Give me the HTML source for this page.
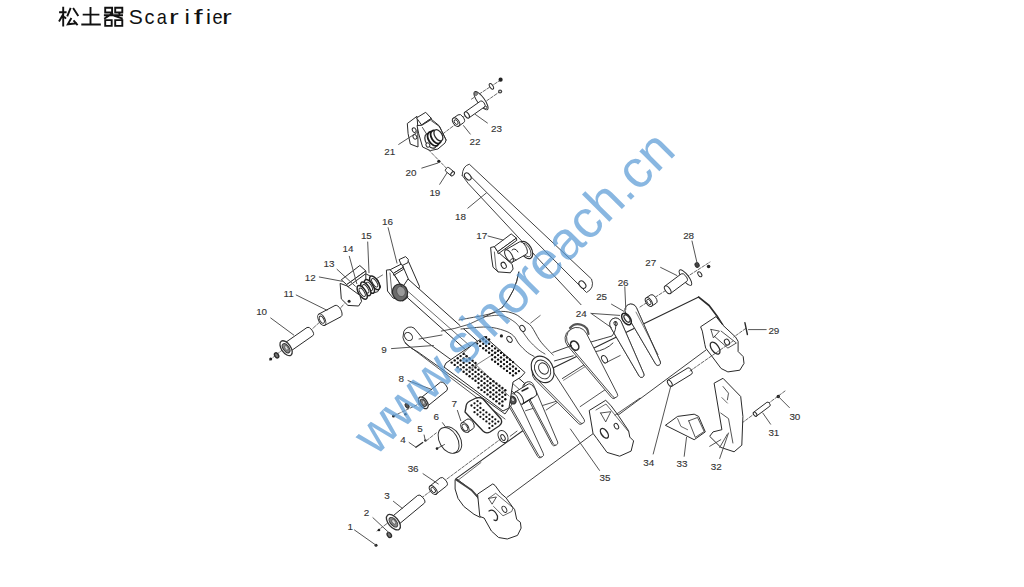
<!DOCTYPE html>
<html><head><meta charset="utf-8">
<style>
html,body{margin:0;padding:0;background:#fff;width:1024px;height:587px;overflow:hidden}
svg{position:absolute;left:0;top:0;display:block}
.l text{font-family:"Liberation Sans",sans-serif;font-size:9.9px;letter-spacing:-0.1px;fill:#333;stroke:#333;stroke-width:0.12px}
</style></head><body>
<svg width="1024" height="587" viewBox="0 0 1024 587">
<!-- title -->
<g id="title" stroke="#111" stroke-width="1.9" fill="none" stroke-linecap="butt">
<path d="M59.1 12.2H66.6M63.2 6.7V26.6M63.2 14.3L59 21.4M64 16.6L66 18.7"/>
<path d="M70.7 7.8L67.2 16.3M73.1 8.1L78.3 16M71.4 18L67.8 24.3L76.9 23.3M73.5 20.4L77.6 25.2"/>
<path d="M82.7 14.6H99.4M90.5 7.1V24.5M81.3 24.5H100.8"/>
<path d="M105.2 7.8h6.9v4.7h-6.9zM115.2 7.8h7.1v4.7h-7.1zM103.9 15.3H123M113.1 12.9L104.2 18.7M113.8 15.6L122.7 18.7M118.5 12.6l1.5 1.5M105.2 20.1h6.5v5.8h-6.5zM115.2 20.1h7.1v5.8h-7.1z"/>
</g>
<g font-family="Liberation Sans" font-size="19.5" fill="#111"><text transform="translate(128.7 24.4) scale(1.08 1)">S</text><text transform="translate(144.6 24.4) scale(1.02 1)">c</text><text transform="translate(156.7 24.4) scale(0.93 1)">a</text><text transform="translate(169.1 24.4) scale(1.5 1)">r</text><text transform="translate(184.5 24.4) scale(1.25 1)">i</text><text transform="translate(193.8 24.4) scale(1.65 1)">f</text><text transform="translate(205.9 24.4) scale(1.15 1)">i</text><text transform="translate(212.4 24.4) scale(0.93 1)">e</text><text transform="translate(222.0 24.4) scale(1.5 1)">r</text></g>
<g id="diagram">
<polyline points="269.8,360.0 286.0,347.0" fill="none" stroke="#2a2a2a" stroke-width="0.7" stroke-linejoin="round" stroke-linecap="round" stroke-dasharray="3 1.6"/>
<polyline points="310.0,331.0 322.0,320.0" fill="none" stroke="#2a2a2a" stroke-width="0.7" stroke-linejoin="round" stroke-linecap="round" stroke-dasharray="3 1.6"/>
<polyline points="338.0,311.0 344.0,304.0" fill="none" stroke="#2a2a2a" stroke-width="0.7" stroke-linejoin="round" stroke-linecap="round" stroke-dasharray="3 1.6"/>
<polyline points="376.5,278.6 382.5,275.0" fill="none" stroke="#2a2a2a" stroke-width="0.7" stroke-linejoin="round" stroke-linecap="round"/>
<polyline points="443.0,133.7 455.3,124.5" fill="none" stroke="#2a2a2a" stroke-width="0.7" stroke-linejoin="round" stroke-linecap="round" stroke-dasharray="3 1.6"/>
<polyline points="461.0,118.5 466.0,115.0" fill="none" stroke="#2a2a2a" stroke-width="0.7" stroke-linejoin="round" stroke-linecap="round" stroke-dasharray="3 1.6"/>
<polyline points="471.5,99.1 501.1,79.7" fill="none" stroke="#2a2a2a" stroke-width="0.7" stroke-linejoin="round" stroke-linecap="round" stroke-dasharray="3 1.6"/>
<polyline points="486.8,100.7 500.1,91.5" fill="none" stroke="#2a2a2a" stroke-width="0.7" stroke-linejoin="round" stroke-linecap="round" stroke-dasharray="3 1.6"/>
<polyline points="428.7,150.0 448.0,169.8" fill="none" stroke="#2a2a2a" stroke-width="0.7" stroke-linejoin="round" stroke-linecap="round" stroke-dasharray="3 1.6"/>
<ellipse cx="491.4" cy="86.4" rx="1.60" ry="3.20" transform="rotate(-33.0 491.4 86.4)" fill="#fff" stroke="#2a2a2a" stroke-width="0.95"/>
<circle cx="500.6" cy="79.7" r="2.1" fill="#222"/>
<circle cx="500.1" cy="91.5" r="2.1" fill="#444"/>
<circle cx="500.1" cy="91.5" r="0.8" fill="#fff"/>
<ellipse cx="481.0" cy="100.7" rx="3.60" ry="11.00" transform="rotate(-36.0 481.0 100.7)" fill="#fff" stroke="#2a2a2a" stroke-width="0.95"/>
<ellipse cx="476.0" cy="94.0" rx="1.30" ry="1.30" transform="rotate(0.0 476.0 94.0)" fill="#fff" stroke="#2a2a2a" stroke-width="0.95"/>
<ellipse cx="485.5" cy="107.5" rx="1.30" ry="1.30" transform="rotate(0.0 485.5 107.5)" fill="#fff" stroke="#2a2a2a" stroke-width="0.95"/>
<path d="M468.9,117.9 L484.5,106.9 A3.50,1.93 54.8 0 0 480.5,101.1 L464.9,112.1 Z" fill="#fff" stroke="#2a2a2a" stroke-width="1.0" stroke-linejoin="round" stroke-linecap="round" />
<ellipse cx="466.9" cy="115.0" rx="1.93" ry="3.50" transform="rotate(-35.2 466.9 115.0)" fill="#fff" stroke="#2a2a2a" stroke-width="1.0"/>
<path d="M458.9,126.0 L463.6,122.7 A4.80,2.88 54.9 0 0 458.0,114.9 L453.3,118.2 Z" fill="#fff" stroke="#2a2a2a" stroke-width="1.0" stroke-linejoin="round" stroke-linecap="round" />
<ellipse cx="456.1" cy="122.1" rx="2.88" ry="4.80" transform="rotate(-35.1 456.1 122.1)" fill="#fff" stroke="#2a2a2a" stroke-width="1.0"/>
<ellipse cx="456.1" cy="122.1" rx="1.58" ry="2.64" transform="rotate(-35.1 456.1 122.1)" fill="#fff" stroke="#2a2a2a" stroke-width="0.9"/>
<polygon points="407.3,123.5 417.0,116.3 417.7,125.5 418.0,147.0 410.3,144.1 408.1,133.7" fill="#fff" stroke="#2a2a2a" stroke-width="1.0" stroke-linejoin="round"/>
<ellipse cx="414.2" cy="130.1" rx="1.80" ry="2.40" transform="rotate(-30.0 414.2 130.1)" fill="#fff" stroke="#2a2a2a" stroke-width="0.95"/>
<ellipse cx="414.9" cy="136.8" rx="1.80" ry="2.40" transform="rotate(-30.0 414.9 136.8)" fill="#fff" stroke="#2a2a2a" stroke-width="0.95"/>
<polygon points="416.5,117.9 425.7,112.3 431.3,118.4 421.6,125.0" fill="#fff" stroke="#2a2a2a" stroke-width="1.0" stroke-linejoin="round"/>
<polygon points="421.6,125.0 431.3,118.4 431.5,120.9 422.4,127.4" fill="#fff" stroke="#2a2a2a" stroke-width="1.0" stroke-linejoin="round"/>
<polygon points="417.0,125.5 421.8,125.3 431.5,119.4 438.9,125.5 446.1,139.9 445.1,142.9 437.9,149.0 430.3,150.6 422.6,147.0 418.7,133.7" fill="#fff" stroke="#2a2a2a" stroke-width="1.0" stroke-linejoin="round"/>
<polyline points="422.4,127.4 430.3,139.9 433.0,148.0" fill="none" stroke="#2a2a2a" stroke-width="0.8" stroke-linejoin="round" stroke-linecap="round"/>
<polyline points="431.5,120.9 439.8,126.8 446.1,140.1" fill="none" stroke="#2a2a2a" stroke-width="0.8" stroke-linejoin="round" stroke-linecap="round"/>
<ellipse cx="430.8" cy="140.9" rx="5.00" ry="8.00" transform="rotate(-32.0 430.8 140.9)" fill="#fff" stroke="#2a2a2a" stroke-width="1.2"/>
<ellipse cx="433.3" cy="138.8" rx="4.80" ry="7.80" transform="rotate(-32.0 433.3 138.8)" fill="#fff" stroke="#1a1a1a" stroke-width="1.8"/>
<ellipse cx="435.9" cy="137.0" rx="4.40" ry="7.20" transform="rotate(-32.0 435.9 137.0)" fill="#fff" stroke="#1a1a1a" stroke-width="1.8"/>
<ellipse cx="438.4" cy="135.3" rx="3.60" ry="6.20" transform="rotate(-32.0 438.4 135.3)" fill="#fff" stroke="#2a2a2a" stroke-width="1.3"/>
<ellipse cx="427.9" cy="145.0" rx="1.80" ry="2.20" transform="rotate(-30.0 427.9 145.0)" fill="#fff" stroke="#2a2a2a" stroke-width="0.95"/>
<circle cx="438.8" cy="161.3" r="1.6" fill="#222"/>
<path d="M454.1,171.9 L448.8,167.6 A2.40,1.44 -50.9 0 0 445.8,171.4 L451.1,175.7 Z" fill="#fff" stroke="#2a2a2a" stroke-width="1.0" stroke-linejoin="round" stroke-linecap="round" />
<ellipse cx="452.6" cy="173.8" rx="1.44" ry="2.40" transform="rotate(-140.9 452.6 173.8)" fill="#fff" stroke="#2a2a2a" stroke-width="1.0"/>
<path d="M462.2,175.4 Q462.5,166 469.3,164.2 L591.5,279 Q595,287 586.5,291.8 L581,304.7 L468.3,183.6 Z" fill="#fff" stroke="none" stroke-width="0" stroke-linejoin="round" stroke-linecap="round" />
<polyline points="462.2,175.4 468.3,183.6 581.0,304.7" fill="none" stroke="#2a2a2a" stroke-width="0.9" stroke-linejoin="round" stroke-linecap="round"/>
<path d="M462.2,175.4 Q462.5,166 469.3,164.2 L591.5,279 Q595,288 586.5,292.5 L470.3,176" fill="none" stroke="#2a2a2a" stroke-width="0.9" stroke-linejoin="round" stroke-linecap="round" />
<ellipse cx="467.8" cy="176.5" rx="2.60" ry="4.10" transform="rotate(-40.0 467.8 176.5)" fill="#fff" stroke="#2a2a2a" stroke-width="1.1"/>
<ellipse cx="582.4" cy="284.6" rx="2.80" ry="4.20" transform="rotate(-40.0 582.4 284.6)" fill="#fff" stroke="#2a2a2a" stroke-width="1.1"/>
<circle cx="270.7" cy="358.9" r="1.5" fill="#222"/>
<ellipse cx="276.6" cy="355.4" rx="1.80" ry="2.80" transform="rotate(-33.0 276.6 355.4)" fill="#777" stroke="#2a2a2a" stroke-width="1.3"/>
<path d="M289.0,352.3 L312.8,335.7 A5.00,2.50 55.1 0 0 307.0,327.5 L283.2,344.1 Z" fill="#fff" stroke="#2a2a2a" stroke-width="1.0" stroke-linejoin="round" stroke-linecap="round" />
<ellipse cx="286.1" cy="348.2" rx="2.50" ry="5.00" transform="rotate(-34.9 286.1 348.2)" fill="#fff" stroke="#2a2a2a" stroke-width="1.0"/>
<ellipse cx="286.1" cy="348.2" rx="4.60" ry="8.50" transform="rotate(-35.0 286.1 348.2)" fill="#fff" stroke="#333" stroke-width="1.3"/>
<ellipse cx="286.1" cy="348.2" rx="2.85" ry="5.27" transform="rotate(-35.0 286.1 348.2)" fill="#888" stroke="#333" stroke-width="1.0"/>
<ellipse cx="286.4" cy="347.9" rx="1.38" ry="2.55" transform="rotate(-35.0 286.4 347.9)" fill="#ddd" stroke="#444" stroke-width="0.6"/>
<path d="M324.8,325.3 L341.0,316.7 A6.30,3.15 62.0 0 0 335.0,305.5 L318.8,314.1 Z" fill="#fff" stroke="#2a2a2a" stroke-width="1.0" stroke-linejoin="round" stroke-linecap="round" />
<ellipse cx="321.8" cy="319.7" rx="3.15" ry="6.30" transform="rotate(-28.0 321.8 319.7)" fill="#fff" stroke="#2a2a2a" stroke-width="1.0"/>
<ellipse cx="321.8" cy="319.7" rx="1.95" ry="3.91" transform="rotate(-28.0 321.8 319.7)" fill="#fff" stroke="#2a2a2a" stroke-width="0.9"/>
<polygon points="365.8,273.8 377.7,279.8 380.7,287.0 377.7,291.7 369.4,294.1 365.8,281.0" fill="#fff" stroke="#2a2a2a" stroke-width="1.0" stroke-linejoin="round"/>
<ellipse cx="374.7" cy="282.8" rx="3.60" ry="7.80" transform="rotate(-32.0 374.7 282.8)" fill="#fff" stroke="#222" stroke-width="1.5"/>
<ellipse cx="374.7" cy="282.8" rx="2.00" ry="4.80" transform="rotate(-32.0 374.7 282.8)" fill="#fff" stroke="#2a2a2a" stroke-width="0.9"/>
<ellipse cx="369.4" cy="286.4" rx="3.60" ry="7.80" transform="rotate(-32.0 369.4 286.4)" fill="#fff" stroke="#222" stroke-width="1.5"/>
<ellipse cx="369.4" cy="286.4" rx="2.00" ry="4.80" transform="rotate(-32.0 369.4 286.4)" fill="#fff" stroke="#2a2a2a" stroke-width="0.9"/>
<ellipse cx="365.8" cy="288.8" rx="3.60" ry="7.80" transform="rotate(-32.0 365.8 288.8)" fill="#fff" stroke="#222" stroke-width="1.5"/>
<ellipse cx="365.8" cy="288.8" rx="2.00" ry="4.80" transform="rotate(-32.0 365.8 288.8)" fill="#fff" stroke="#2a2a2a" stroke-width="0.9"/>
<ellipse cx="362.2" cy="292.3" rx="3.60" ry="7.80" transform="rotate(-32.0 362.2 292.3)" fill="#fff" stroke="#222" stroke-width="1.5"/>
<ellipse cx="362.2" cy="292.3" rx="2.00" ry="4.80" transform="rotate(-32.0 362.2 292.3)" fill="#fff" stroke="#2a2a2a" stroke-width="0.9"/>
<polygon points="341.3,279.8 359.8,265.5 365.8,270.9 346.7,284.6" fill="#fff" stroke="#2a2a2a" stroke-width="1.0" stroke-linejoin="round"/>
<polygon points="346.7,284.6 365.8,270.9 366.0,273.5 347.3,287.2" fill="#fff" stroke="#2a2a2a" stroke-width="1.0" stroke-linejoin="round"/>
<polygon points="340.1,283.4 346.7,285.8 359.8,295.3 361.6,301.3 358.6,306.0 347.9,305.4 341.3,298.9" fill="#fff" stroke="#2a2a2a" stroke-width="1.0" stroke-linejoin="round"/>
<circle cx="349.1" cy="301.3" r="1.5" fill="#222"/>
<polygon points="401.5,263.0 408.5,261.5 419.5,286.5 418.6,289.3 412.0,287.5" fill="#fff" stroke="#2a2a2a" stroke-width="1.0" stroke-linejoin="round"/>
<polygon points="399.1,259.6 405.6,256.6 408.3,259.4 408.0,262.6 401.6,265.8" fill="#fff" stroke="#2a2a2a" stroke-width="1.0" stroke-linejoin="round"/>
<polygon points="408.0,279.0 532.0,390.0 524.0,402.0 400.0,291.0" fill="#fff" stroke="#2a2a2a" stroke-width="1.0" stroke-linejoin="round"/>
<polyline points="403.0,287.0 528.0,397.0" fill="none" stroke="#2a2a2a" stroke-width="0.7" stroke-linejoin="round" stroke-linecap="round"/>
<polygon points="386.4,270.1 390.2,269.7 393.4,273.4 404.5,291.0 408.0,297.0 403.0,301.0 393.0,298.0 387.5,291.0" fill="#fff" stroke="#2a2a2a" stroke-width="1.0" stroke-linejoin="round"/>
<polyline points="390.0,273.0 392.0,294.0" fill="none" stroke="#2a2a2a" stroke-width="0.7" stroke-linejoin="round" stroke-linecap="round"/>
<ellipse cx="400.0" cy="292.5" rx="7.50" ry="8.50" transform="rotate(-20.0 400.0 292.5)" fill="#6a6a6a" stroke="#2a2a2a" stroke-width="1.2"/>
<ellipse cx="401.0" cy="291.5" rx="4.20" ry="5.20" transform="rotate(-20.0 401.0 291.5)" fill="#9a9a9a" stroke="#444" stroke-width="0.6"/>
<polyline points="393.4,273.4 402.0,287.0" fill="none" stroke="#2a2a2a" stroke-width="0.8" stroke-linejoin="round" stroke-linecap="round"/>
<polygon points="390.2,269.7 401.4,264.0 403.3,267.3 393.4,273.4" fill="#fff" stroke="#2a2a2a" stroke-width="1.0" stroke-linejoin="round"/>
<polygon points="393.4,273.4 403.3,267.3 403.6,269.2 393.8,275.3" fill="#fff" stroke="#2a2a2a" stroke-width="1.0" stroke-linejoin="round"/>
<ellipse cx="526.0" cy="250.0" rx="5.50" ry="9.50" transform="rotate(-30.0 526.0 250.0)" fill="#fff" stroke="#2a2a2a" stroke-width="1.2"/>
<ellipse cx="526.0" cy="250.0" rx="3.80" ry="7.50" transform="rotate(-30.0 526.0 250.0)" fill="#fff" stroke="#2a2a2a" stroke-width="0.8"/>
<path d="M512.5,262.1 L526.5,254.1 A7.00,3.15 60.3 0 0 519.5,241.9 L505.5,249.9 Z" fill="#fff" stroke="#2a2a2a" stroke-width="1.0" stroke-linejoin="round" stroke-linecap="round" />
<ellipse cx="509.0" cy="256.0" rx="3.15" ry="7.00" transform="rotate(-29.7 509.0 256.0)" fill="#fff" stroke="#2a2a2a" stroke-width="1.0"/>
<path d="M512,250 Q515,247 518,252 M509,262 Q512,256 516,260" fill="none" stroke="#2a2a2a" stroke-width="1.0" stroke-linejoin="round" stroke-linecap="round" />
<polygon points="490.6,247.5 494.4,246.6 497.7,251.7 512.2,264.4 513.1,269.0 510.3,272.8 498.1,271.9 493.0,267.2 491.6,258.0" fill="#fff" stroke="#2a2a2a" stroke-width="1.0" stroke-linejoin="round"/>
<polyline points="494.4,252.0 496.0,268.0 498.1,271.9" fill="none" stroke="#2a2a2a" stroke-width="0.7" stroke-linejoin="round" stroke-linecap="round"/>
<ellipse cx="503.7" cy="265.3" rx="2.30" ry="3.30" transform="rotate(-30.0 503.7 265.3)" fill="#fff" stroke="#2a2a2a" stroke-width="1.0"/>
<polygon points="494.4,246.6 511.2,233.9 516.4,238.1 497.7,251.7" fill="#fff" stroke="#2a2a2a" stroke-width="1.0" stroke-linejoin="round"/>
<polygon points="497.7,251.7 516.4,238.1 516.8,240.3 498.2,253.8" fill="#fff" stroke="#2a2a2a" stroke-width="1.0" stroke-linejoin="round"/>
<path d="M518.8,272 Q516,291 502.1,307.7" fill="none" stroke="#2a2a2a" stroke-width="0.8" stroke-linejoin="round" stroke-linecap="round" />
<polygon points="456.0,478.6 525.0,429.0 552.0,368.0 698.7,297.1 722.8,325.1 706.0,350.0 507.0,497.4 480.0,500.0" fill="#fff" stroke="#2a2a2a" stroke-width="0" stroke-linejoin="round"/>
<polyline points="456.0,478.6 528.0,427.0" fill="none" stroke="#2a2a2a" stroke-width="1.1" stroke-linejoin="round" stroke-linecap="round"/>
<polyline points="552.4,368.3 698.7,297.1" fill="none" stroke="#2a2a2a" stroke-width="1.1" stroke-linejoin="round" stroke-linecap="round"/>
<polyline points="698.7,297.1 709.1,305.5 716.8,315.7 722.8,325.1" fill="none" stroke="#2a2a2a" stroke-width="1.7" stroke-linejoin="round" stroke-linecap="round"/>
<polyline points="507.0,497.4 706.0,350.0" fill="none" stroke="#2a2a2a" stroke-width="0.9" stroke-linejoin="round" stroke-linecap="round"/>
<polygon points="455.1,479.6 456.6,478.8 465.3,485.4 474.0,492.6 479.8,500.6 482.7,509.3 483.4,515.8 479.8,517.2 474.0,514.3 463.8,506.4 458.0,498.4 455.1,489.0" fill="#fff" stroke="#2a2a2a" stroke-width="1.0" stroke-linejoin="round"/>
<polyline points="455.9,479.6 471.1,489.7 479.8,499.1 483.4,515.8" fill="none" stroke="#444" stroke-width="1.8" stroke-linejoin="round" stroke-linecap="round"/>
<polyline points="457.5,480.6 481.0,462.5" fill="none" stroke="#2a2a2a" stroke-width="0.7" stroke-linejoin="round" stroke-linecap="round"/>
<polygon points="477.6,494.1 492.8,483.9 495.0,485.4 500.8,493.3 505.9,497.7 513.1,507.8 514.6,509.3 516.7,519.4 520.4,522.3 521.1,528.1 517.5,535.4 507.3,539.0 498.6,537.5 491.4,531.0 484.1,518.0 479.8,516.5" fill="#fff" stroke="#2a2a2a" stroke-width="1.0" stroke-linejoin="round"/>
<polyline points="488.5,498.4 495.7,493.3 513.1,507.8 511.7,511.5 503.0,515.8 493.5,506.4" fill="none" stroke="#2a2a2a" stroke-width="0.7" stroke-linejoin="round" stroke-linecap="round"/>
<polyline points="488.5,498.4 496.4,497.0 492.1,504.2 488.5,498.4" fill="none" stroke="#2a2a2a" stroke-width="0.8" stroke-linejoin="round" stroke-linecap="round"/>
<ellipse cx="504.4" cy="509.3" rx="2.00" ry="3.40" transform="rotate(-30.0 504.4 509.3)" fill="#fff" stroke="#2a2a2a" stroke-width="0.9"/>
<path d="M489,511 Q494,508 497.5,516 Q498,522 494,520" fill="none" stroke="#2a2a2a" stroke-width="1.3" stroke-linejoin="round" stroke-linecap="round" />
<ellipse cx="503.0" cy="436.5" rx="4.50" ry="6.50" transform="rotate(-30.0 503.0 436.5)" fill="#fff" stroke="#2a2a2a" stroke-width="0.95"/>
<ellipse cx="503.0" cy="437.5" rx="1.80" ry="3.20" transform="rotate(-30.0 503.0 437.5)" fill="#fff" stroke="#2a2a2a" stroke-width="0.95"/>
<polygon points="589.2,410.5 605.7,400.3 610.8,405.4 618.4,415.6 628.6,430.8 629.8,437.1 633.6,440.9 631.1,451.1 619.7,456.2 607.0,452.4 596.8,438.4 593.0,433.3" fill="#fff" stroke="#2a2a2a" stroke-width="1.0" stroke-linejoin="round"/>
<polyline points="600.6,413.0 610.8,411.7 605.7,421.9 600.6,413.0" fill="none" stroke="#2a2a2a" stroke-width="0.8" stroke-linejoin="round" stroke-linecap="round"/>
<ellipse cx="616.4" cy="426.2" rx="2.00" ry="3.00" transform="rotate(-30.0 616.4 426.2)" fill="#fff" stroke="#2a2a2a" stroke-width="0.95"/>
<ellipse cx="604.4" cy="433.3" rx="3.00" ry="5.50" transform="rotate(-35.0 604.4 433.3)" fill="#fff" stroke="#2a2a2a" stroke-width="1.4"/>
<polyline points="596.0,410.0 606.0,404.0 628.0,431.0" fill="none" stroke="#2a2a2a" stroke-width="0.7" stroke-linejoin="round" stroke-linecap="round"/>
<polygon points="700.6,326.8 716.0,316.6 722.8,325.1 735.5,337.0 738.1,341.3 738.1,351.5 743.2,356.6 744.0,363.4 739.8,370.2 727.9,371.9 721.1,368.5 710.9,354.9 705.7,348.1 704.9,344.7 702.3,331.1" fill="#fff" stroke="#2a2a2a" stroke-width="1.0" stroke-linejoin="round"/>
<polyline points="710.9,329.4 719.4,331.1 713.4,337.9 710.9,329.4" fill="none" stroke="#2a2a2a" stroke-width="0.8" stroke-linejoin="round" stroke-linecap="round"/>
<polyline points="721.1,331.1 736.4,343.0 727.9,348.1 714.3,336.2" fill="none" stroke="#2a2a2a" stroke-width="0.8" stroke-linejoin="round" stroke-linecap="round"/>
<ellipse cx="727.0" cy="342.1" rx="2.40" ry="3.20" transform="rotate(-30.0 727.0 342.1)" fill="#fff" stroke="#2a2a2a" stroke-width="0.95"/>
<ellipse cx="715.1" cy="348.1" rx="3.60" ry="6.80" transform="rotate(-35.0 715.1 348.1)" fill="#fff" stroke="#2a2a2a" stroke-width="1.3"/>
<polyline points="745.7,328.5 733.8,337.0" fill="none" stroke="#2a2a2a" stroke-width="0.7" stroke-linejoin="round" stroke-linecap="round" stroke-dasharray="3 1.6"/>
<polyline points="744.9,322.6 747.4,334.5" fill="none" stroke="#2a2a2a" stroke-width="1.4" stroke-linejoin="round" stroke-linecap="round"/>
<polyline points="525.6,410.7 558.8,400.5 581.0,423.5" fill="none" stroke="#2a2a2a" stroke-width="0.8" stroke-linejoin="round" stroke-linecap="round"/>
<polyline points="510.2,436.2 517.0,431.1" fill="none" stroke="#2a2a2a" stroke-width="0.8" stroke-linejoin="round" stroke-linecap="round"/>
<polyline points="562.4,378.5 587.9,362.4" fill="none" stroke="#2a2a2a" stroke-width="0.9" stroke-linejoin="round" stroke-linecap="round"/>
<polyline points="563.5,380.3 589.0,364.2" fill="none" stroke="#2a2a2a" stroke-width="0.6" stroke-linejoin="round" stroke-linecap="round"/>
<polyline points="546.2,410.0 558.9,401.2" fill="none" stroke="#2a2a2a" stroke-width="0.8" stroke-linejoin="round" stroke-linecap="round"/>
<polyline points="580.2,406.6 606.6,388.7" fill="none" stroke="#2a2a2a" stroke-width="0.8" stroke-linejoin="round" stroke-linecap="round"/>
<polyline points="604.9,363.2 620.2,355.5" fill="none" stroke="#2a2a2a" stroke-width="0.8" stroke-linejoin="round" stroke-linecap="round"/>
<polyline points="615.1,415.1 640.0,398.1" fill="none" stroke="#2a2a2a" stroke-width="0.8" stroke-linejoin="round" stroke-linecap="round"/>
<path d="M671.7,386.3 L691.7,374.1 A3.60,1.80 58.6 0 0 687.9,367.9 L667.9,380.1 Z" fill="#fff" stroke="#2a2a2a" stroke-width="1.0" stroke-linejoin="round" stroke-linecap="round" />
<ellipse cx="669.8" cy="383.2" rx="1.80" ry="3.60" transform="rotate(-31.4 669.8 383.2)" fill="#fff" stroke="#2a2a2a" stroke-width="1.0"/>
<polyline points="690.0,371.0 733.0,341.0" fill="none" stroke="#2a2a2a" stroke-width="0.7" stroke-linejoin="round" stroke-linecap="round" stroke-dasharray="3 1.6"/>
<path d="M625.7,313.0 L655.8,364.3 A2.6,2.6 0 0 0 660.4,362.0 L636.4,307.6 A6,6 0 1 0 625.7,313.0 Z" fill="#fff" stroke="#333" stroke-width="0.9" stroke-linejoin="round" stroke-linecap="round" />
<path d="M625.7,313.0 L655.8,364.3 A2.6,2.6 0 0 0 660.4,362.0 L636.4,307.6 A6,6 0 1 0 625.7,313.0 Z" fill="#fff" stroke="#333" stroke-width="0.9" stroke-linejoin="round" stroke-linecap="round" />
<path d="M610.4,327.0 L639.3,376.3 A2.6,2.6 0 0 0 643.9,374.0 L621.1,321.6 A6,6 0 1 0 610.4,327.0 Z" fill="#fff" stroke="#333" stroke-width="0.9" stroke-linejoin="round" stroke-linecap="round" />
<path d="M610.4,327.0 L639.3,376.3 A2.6,2.6 0 0 0 643.9,374.0 L621.1,321.6 A6,6 0 1 0 610.4,327.0 Z" fill="#fff" stroke="#333" stroke-width="0.9" stroke-linejoin="round" stroke-linecap="round" />
<polyline points="636.0,312.1 658.1,354.7" fill="none" stroke="#2a2a2a" stroke-width="0.6" stroke-linejoin="round" stroke-linecap="round"/>
<ellipse cx="626.5" cy="319.0" rx="3.80" ry="6.50" transform="rotate(-35.0 626.5 319.0)" fill="#fff" stroke="#222" stroke-width="1.5"/>
<ellipse cx="627.0" cy="318.5" rx="2.20" ry="4.20" transform="rotate(-35.0 627.0 318.5)" fill="#fff" stroke="#333" stroke-width="1.3"/>
<ellipse cx="615.6" cy="323.5" rx="1.60" ry="2.00" transform="rotate(-30.0 615.6 323.5)" fill="#fff" stroke="#2a2a2a" stroke-width="0.95"/>
<path d="M591,342 Q605,338 612,336 Q617,330 615.6,322 M594,352 Q606,350 613,343" fill="none" stroke="#2a2a2a" stroke-width="0.9" stroke-linejoin="round" stroke-linecap="round" />
<ellipse cx="604.5" cy="359.2" rx="2.50" ry="4.00" transform="rotate(-30.0 604.5 359.2)" fill="#fff" stroke="#2a2a2a" stroke-width="0.95"/>
<path d="M567.5,345.6 L611.5,397.5 A2.6,2.6 0 0 0 615.8,394.6 L584.8,334.0 A10.5,10.5 0 1 0 567.5,345.6 Z" fill="#fff" stroke="#333" stroke-width="0.9" stroke-linejoin="round" stroke-linecap="round" />
<path d="M569.0,344.8 L613.0,396.7 A2.6,2.6 0 0 0 617.3,393.8 L586.3,333.2 A10.5,10.5 0 1 0 569.0,344.8 Z" fill="#fff" stroke="#333" stroke-width="0.9" stroke-linejoin="round" stroke-linecap="round" />
<path d="M570,328 A10.5,10.5 0 0 1 588.5,334" fill="none" stroke="#555" stroke-width="2.2" stroke-linejoin="round" stroke-linecap="round" />
<ellipse cx="574.7" cy="345.6" rx="3.60" ry="5.00" transform="rotate(-35.0 574.7 345.6)" fill="#fff" stroke="#2a2a2a" stroke-width="1.6"/>
<polyline points="552.8,352.4 571.5,345.6" fill="none" stroke="#2a2a2a" stroke-width="0.9" stroke-linejoin="round" stroke-linecap="round"/>
<polyline points="554.5,360.9 573.2,355.8" fill="none" stroke="#2a2a2a" stroke-width="0.9" stroke-linejoin="round" stroke-linecap="round"/>
<path d="M534.6,379.2 L578.6,423.7 A2.6,2.6 0 0 0 582.6,420.5 L548.6,368.0 A9,9 0 1 0 534.6,379.2 Z" fill="#fff" stroke="#333" stroke-width="0.9" stroke-linejoin="round" stroke-linecap="round" />
<path d="M536.2,378.3 L580.2,422.8 A2.6,2.6 0 0 0 584.2,419.6 L550.2,367.1 A9,9 0 1 0 536.2,378.3 Z" fill="#fff" stroke="#333" stroke-width="0.9" stroke-linejoin="round" stroke-linecap="round" />
<polygon points="459.0,320.0 483.0,315.5 501.4,311.4 515.0,314.1 524.5,320.9 531.4,326.4 539.5,340.0 547.7,349.5 553.2,355.0 534.1,356.4 527.3,352.3 519.1,344.1 513.6,335.9 504.1,330.5 486.4,327.0 461.0,329.0" fill="#fff" stroke="#2a2a2a" stroke-width="0" stroke-linejoin="round"/>
<path d="M459.0,320.0 C463.0,319.2 475.9,316.9 483.0,315.5 C490.1,314.1 496.1,311.6 501.4,311.4 C506.7,311.2 511.1,312.5 515.0,314.1 C518.9,315.7 521.8,318.8 524.5,320.9 C527.2,322.9 528.9,323.2 531.4,326.4 C533.9,329.6 536.8,336.1 539.5,340.0 C542.2,343.9 545.4,347.0 547.7,349.5 C550.0,352.0 552.3,354.1 553.2,355.0" fill="none" stroke="#333" stroke-width="0.9" stroke-linejoin="round" stroke-linecap="round" />
<path d="M483.6,316.8 C486.6,316.6 496.2,314.6 501.4,315.5 C506.6,316.4 511.6,319.8 515.0,322.3 C518.4,324.8 519.5,327.6 521.8,330.5 C524.1,333.4 525.9,336.8 528.6,340.0 C531.3,343.2 535.5,347.2 538.2,349.5 C540.9,351.8 543.9,353.2 545.0,354.0" fill="none" stroke="#333" stroke-width="0.8" stroke-linejoin="round" stroke-linecap="round" />
<path d="M461.0,329.0 C465.2,328.7 479.2,326.8 486.4,327.0 C493.6,327.2 499.6,329.0 504.1,330.5 C508.6,332.0 511.1,333.6 513.6,335.9 C516.1,338.2 516.8,341.4 519.1,344.1 C521.4,346.8 524.8,350.2 527.3,352.3 C529.8,354.4 533.0,355.7 534.1,356.4" fill="none" stroke="#333" stroke-width="0.9" stroke-linejoin="round" stroke-linecap="round" />
<ellipse cx="522.5" cy="328.4" rx="2.30" ry="3.30" transform="rotate(-35.0 522.5 328.4)" fill="#fff" stroke="#2a2a2a" stroke-width="0.95"/>
<ellipse cx="509.5" cy="339.3" rx="2.30" ry="3.30" transform="rotate(-35.0 509.5 339.3)" fill="#fff" stroke="#2a2a2a" stroke-width="0.95"/>
<circle cx="501.4" cy="335.9" r="1.6" fill="#222"/>
<polyline points="530.7,323.0 540.2,315.5" fill="none" stroke="#2a2a2a" stroke-width="0.7" stroke-linejoin="round" stroke-linecap="round"/>
<path d="M518.8,272 Q516,291 502.1,307.7 Q485.4,317.2 468.7,324.4 Q455,329 441.3,331.1" fill="none" stroke="#2a2a2a" stroke-width="0.8" stroke-linejoin="round" stroke-linecap="round" />
<ellipse cx="542.6" cy="369.4" rx="10.50" ry="14.00" transform="rotate(-30.0 542.6 369.4)" fill="#fff" stroke="#2a2a2a" stroke-width="1.1"/>
<ellipse cx="542.6" cy="369.4" rx="7.50" ry="10.00" transform="rotate(-30.0 542.6 369.4)" fill="#fff" stroke="#2a2a2a" stroke-width="0.9"/>
<ellipse cx="543.5" cy="368.5" rx="4.50" ry="6.00" transform="rotate(-30.0 543.5 368.5)" fill="#fff" stroke="#2a2a2a" stroke-width="0.9"/>
<path d="M523.4,389.9 L552.2,444.7 A2.4,2.4 0 0 0 556.5,442.7 L532.4,385.7 A5,5 0 1 0 523.4,389.9 Z" fill="#fff" stroke="#333" stroke-width="0.9" stroke-linejoin="round" stroke-linecap="round" />
<path d="M524.6,389.3 L553.4,444.1 A2.4,2.4 0 0 0 557.7,442.1 L533.6,385.1 A5,5 0 1 0 524.6,389.3 Z" fill="#fff" stroke="#333" stroke-width="0.9" stroke-linejoin="round" stroke-linecap="round" />
<path d="M522.7,404.0 L535.7,396.0 A7.00,3.15 58.4 0 0 528.3,384.0 L515.3,392.0 Z" fill="#fff" stroke="#2a2a2a" stroke-width="1.0" stroke-linejoin="round" stroke-linecap="round" />
<ellipse cx="519.0" cy="398.0" rx="3.15" ry="7.00" transform="rotate(-31.6 519.0 398.0)" fill="#fff" stroke="#2a2a2a" stroke-width="1.0"/>
<polyline points="522.0,391.0 528.0,388.0" fill="none" stroke="#222" stroke-width="1.4" stroke-linejoin="round" stroke-linecap="round"/>
<polyline points="524.0,403.0 532.0,398.0" fill="none" stroke="#222" stroke-width="1.4" stroke-linejoin="round" stroke-linecap="round"/>
<path d="M506.7,402.3 L537.5,456.4 A2.5,2.5 0 0 0 542.0,454.2 L515.9,397.5 A5.2,5.2 0 1 0 506.7,402.3 Z" fill="#fff" stroke="#333" stroke-width="0.9" stroke-linejoin="round" stroke-linecap="round" />
<path d="M508.0,401.6 L538.8,455.7 A2.5,2.5 0 0 0 543.3,453.5 L517.2,396.8 A5.2,5.2 0 1 0 508.0,401.6 Z" fill="#fff" stroke="#333" stroke-width="0.9" stroke-linejoin="round" stroke-linecap="round" />
<ellipse cx="512.5" cy="400.0" rx="3.20" ry="4.20" transform="rotate(-35.0 512.5 400.0)" fill="#555" stroke="#2a2a2a" stroke-width="1.2"/>
<ellipse cx="512.8" cy="399.7" rx="1.50" ry="2.10" transform="rotate(-35.0 512.8 399.7)" fill="#ccc" stroke="#2a2a2a" stroke-width="0.6"/>
<polyline points="377.0,531.0 502.0,438.0" fill="none" stroke="#2a2a2a" stroke-width="0.7" stroke-linejoin="round" stroke-linecap="round" stroke-dasharray="3 1.6"/>
<path d="M396.7,526.1 L424.3,503.2 A5.10,2.55 50.3 0 0 417.7,495.4 L390.1,518.3 Z" fill="#fff" stroke="#2a2a2a" stroke-width="1.0" stroke-linejoin="round" stroke-linecap="round" />
<ellipse cx="393.4" cy="522.2" rx="2.55" ry="5.10" transform="rotate(-39.7 393.4 522.2)" fill="#fff" stroke="#2a2a2a" stroke-width="1.0"/>
<ellipse cx="393.4" cy="522.2" rx="5.00" ry="9.20" transform="rotate(-40.0 393.4 522.2)" fill="#fff" stroke="#333" stroke-width="1.3"/>
<ellipse cx="393.4" cy="522.2" rx="3.10" ry="5.70" transform="rotate(-40.0 393.4 522.2)" fill="#888" stroke="#333" stroke-width="1.0"/>
<ellipse cx="393.7" cy="521.9" rx="1.50" ry="2.76" transform="rotate(-40.0 393.7 521.9)" fill="#ddd" stroke="#444" stroke-width="0.6"/>
<path d="M436.4,494.0 L446.6,485.9 A5.10,2.81 51.5 0 0 440.2,477.9 L430.0,486.0 Z" fill="#fff" stroke="#2a2a2a" stroke-width="1.0" stroke-linejoin="round" stroke-linecap="round" />
<ellipse cx="433.2" cy="490.0" rx="2.81" ry="5.10" transform="rotate(-38.5 433.2 490.0)" fill="#fff" stroke="#2a2a2a" stroke-width="1.0"/>
<ellipse cx="433.2" cy="490.0" rx="1.68" ry="3.06" transform="rotate(-38.5 433.2 490.0)" fill="#fff" stroke="#2a2a2a" stroke-width="0.9"/>
<ellipse cx="389.3" cy="535.0" rx="1.80" ry="2.80" transform="rotate(-35.0 389.3 535.0)" fill="#777" stroke="#2a2a2a" stroke-width="1.3"/>
<circle cx="376.0" cy="545.2" r="1.5" fill="#222"/>
<circle cx="379.0" cy="530.0" r="1.3" fill="#222"/>
<path d="M404,331 A7,7 0 0 1 414,328 L424,340 L512,404 L505,414 L418,352 Q404,345 403,338 Z" fill="#fff" stroke="#2a2a2a" stroke-width="0.95" stroke-linejoin="round" stroke-linecap="round" />
<ellipse cx="408.5" cy="336.5" rx="3.50" ry="4.50" transform="rotate(-40.0 408.5 336.5)" fill="#fff" stroke="#2a2a2a" stroke-width="0.95"/>
<polyline points="405.0,343.0 505.0,419.0" fill="none" stroke="#2a2a2a" stroke-width="0.8" stroke-linejoin="round" stroke-linecap="round"/>
<polyline points="419.0,339.0 442.0,335.0" fill="none" stroke="#2a2a2a" stroke-width="0.8" stroke-linejoin="round" stroke-linecap="round"/>
<polygon points="446.0,363.0 484.5,336.5 525.0,372.5 521.0,377.0 513.0,382.0 509.0,408.0 503.0,411.0 444.0,367.0" fill="#fff" stroke="#2a2a2a" stroke-width="1.0" stroke-linejoin="round"/>
<circle cx="492.1" cy="359.5" r="1.2" fill="#111"/>
<circle cx="495.1" cy="361.7" r="1.2" fill="#111"/>
<circle cx="498.1" cy="364.0" r="1.2" fill="#111"/>
<circle cx="501.0" cy="366.3" r="1.2" fill="#111"/>
<circle cx="504.0" cy="368.6" r="1.2" fill="#111"/>
<circle cx="507.0" cy="370.9" r="1.2" fill="#111"/>
<circle cx="510.0" cy="373.1" r="1.2" fill="#111"/>
<circle cx="513.0" cy="375.4" r="1.2" fill="#111"/>
<circle cx="477.2" cy="343.6" r="1.2" fill="#111"/>
<circle cx="480.2" cy="345.9" r="1.2" fill="#111"/>
<circle cx="483.2" cy="348.2" r="1.2" fill="#111"/>
<circle cx="486.1" cy="350.4" r="1.2" fill="#111"/>
<circle cx="489.1" cy="352.7" r="1.2" fill="#111"/>
<circle cx="492.1" cy="355.0" r="1.2" fill="#111"/>
<circle cx="495.1" cy="357.3" r="1.2" fill="#111"/>
<circle cx="498.1" cy="359.6" r="1.2" fill="#111"/>
<circle cx="501.0" cy="361.8" r="1.2" fill="#111"/>
<circle cx="504.0" cy="364.1" r="1.2" fill="#111"/>
<circle cx="507.0" cy="366.4" r="1.2" fill="#111"/>
<circle cx="510.0" cy="368.7" r="1.2" fill="#111"/>
<circle cx="513.0" cy="371.0" r="1.2" fill="#111"/>
<circle cx="515.9" cy="373.2" r="1.2" fill="#111"/>
<circle cx="480.2" cy="341.4" r="1.2" fill="#111"/>
<circle cx="483.2" cy="343.7" r="1.2" fill="#111"/>
<circle cx="486.1" cy="346.0" r="1.2" fill="#111"/>
<circle cx="489.1" cy="348.3" r="1.2" fill="#111"/>
<circle cx="492.1" cy="350.6" r="1.2" fill="#111"/>
<circle cx="495.1" cy="352.8" r="1.2" fill="#111"/>
<circle cx="498.1" cy="355.1" r="1.2" fill="#111"/>
<circle cx="501.0" cy="357.4" r="1.2" fill="#111"/>
<circle cx="504.0" cy="359.7" r="1.2" fill="#111"/>
<circle cx="507.0" cy="361.9" r="1.2" fill="#111"/>
<circle cx="510.0" cy="364.2" r="1.2" fill="#111"/>
<circle cx="513.0" cy="366.5" r="1.2" fill="#111"/>
<circle cx="515.9" cy="368.8" r="1.2" fill="#111"/>
<circle cx="518.9" cy="371.1" r="1.2" fill="#111"/>
<circle cx="483.2" cy="339.3" r="1.2" fill="#111"/>
<circle cx="486.1" cy="341.5" r="1.2" fill="#111"/>
<circle cx="489.1" cy="343.8" r="1.2" fill="#111"/>
<circle cx="492.1" cy="346.1" r="1.2" fill="#111"/>
<circle cx="495.1" cy="348.4" r="1.2" fill="#111"/>
<circle cx="498.1" cy="350.7" r="1.2" fill="#111"/>
<circle cx="501.0" cy="352.9" r="1.2" fill="#111"/>
<circle cx="504.0" cy="355.2" r="1.2" fill="#111"/>
<circle cx="507.0" cy="357.5" r="1.2" fill="#111"/>
<circle cx="510.0" cy="359.8" r="1.2" fill="#111"/>
<circle cx="513.0" cy="362.1" r="1.2" fill="#111"/>
<circle cx="486.1" cy="337.1" r="1.2" fill="#111"/>
<circle cx="489.1" cy="339.4" r="1.2" fill="#111"/>
<circle cx="478.5" cy="387.6" r="1.2" fill="#111"/>
<circle cx="481.5" cy="389.9" r="1.2" fill="#111"/>
<circle cx="484.5" cy="392.1" r="1.2" fill="#111"/>
<circle cx="487.5" cy="394.4" r="1.2" fill="#111"/>
<circle cx="490.4" cy="396.7" r="1.2" fill="#111"/>
<circle cx="493.4" cy="399.0" r="1.2" fill="#111"/>
<circle cx="496.4" cy="401.3" r="1.2" fill="#111"/>
<circle cx="499.4" cy="403.5" r="1.2" fill="#111"/>
<circle cx="502.4" cy="405.8" r="1.2" fill="#111"/>
<circle cx="451.7" cy="362.6" r="1.2" fill="#111"/>
<circle cx="454.7" cy="364.9" r="1.2" fill="#111"/>
<circle cx="457.7" cy="367.2" r="1.2" fill="#111"/>
<circle cx="460.6" cy="369.4" r="1.2" fill="#111"/>
<circle cx="463.6" cy="371.7" r="1.2" fill="#111"/>
<circle cx="466.6" cy="374.0" r="1.2" fill="#111"/>
<circle cx="469.6" cy="376.3" r="1.2" fill="#111"/>
<circle cx="472.6" cy="378.6" r="1.2" fill="#111"/>
<circle cx="475.5" cy="380.8" r="1.2" fill="#111"/>
<circle cx="478.5" cy="383.1" r="1.2" fill="#111"/>
<circle cx="481.5" cy="385.4" r="1.2" fill="#111"/>
<circle cx="484.5" cy="387.7" r="1.2" fill="#111"/>
<circle cx="487.5" cy="390.0" r="1.2" fill="#111"/>
<circle cx="490.4" cy="392.2" r="1.2" fill="#111"/>
<circle cx="493.4" cy="394.5" r="1.2" fill="#111"/>
<circle cx="496.4" cy="396.8" r="1.2" fill="#111"/>
<circle cx="499.4" cy="399.1" r="1.2" fill="#111"/>
<circle cx="502.4" cy="401.4" r="1.2" fill="#111"/>
<circle cx="454.7" cy="360.4" r="1.2" fill="#111"/>
<circle cx="457.7" cy="362.7" r="1.2" fill="#111"/>
<circle cx="460.6" cy="365.0" r="1.2" fill="#111"/>
<circle cx="463.6" cy="367.3" r="1.2" fill="#111"/>
<circle cx="466.6" cy="369.6" r="1.2" fill="#111"/>
<circle cx="469.6" cy="371.8" r="1.2" fill="#111"/>
<circle cx="472.6" cy="374.1" r="1.2" fill="#111"/>
<circle cx="475.5" cy="376.4" r="1.2" fill="#111"/>
<circle cx="478.5" cy="378.7" r="1.2" fill="#111"/>
<circle cx="481.5" cy="380.9" r="1.2" fill="#111"/>
<circle cx="484.5" cy="383.2" r="1.2" fill="#111"/>
<circle cx="487.5" cy="385.5" r="1.2" fill="#111"/>
<circle cx="490.4" cy="387.8" r="1.2" fill="#111"/>
<circle cx="493.4" cy="390.1" r="1.2" fill="#111"/>
<circle cx="496.4" cy="392.4" r="1.2" fill="#111"/>
<circle cx="499.4" cy="394.6" r="1.2" fill="#111"/>
<circle cx="502.4" cy="396.9" r="1.2" fill="#111"/>
<circle cx="505.3" cy="399.2" r="1.2" fill="#111"/>
<circle cx="457.7" cy="358.3" r="1.2" fill="#111"/>
<circle cx="460.6" cy="360.5" r="1.2" fill="#111"/>
<circle cx="463.6" cy="362.8" r="1.2" fill="#111"/>
<circle cx="466.6" cy="365.1" r="1.2" fill="#111"/>
<circle cx="469.6" cy="367.4" r="1.2" fill="#111"/>
<circle cx="472.6" cy="369.7" r="1.2" fill="#111"/>
<circle cx="475.5" cy="371.9" r="1.2" fill="#111"/>
<circle cx="478.5" cy="374.2" r="1.2" fill="#111"/>
<circle cx="481.5" cy="376.5" r="1.2" fill="#111"/>
<circle cx="484.5" cy="378.8" r="1.2" fill="#111"/>
<circle cx="487.5" cy="381.1" r="1.2" fill="#111"/>
<circle cx="490.4" cy="383.3" r="1.2" fill="#111"/>
<circle cx="493.4" cy="385.6" r="1.2" fill="#111"/>
<circle cx="496.4" cy="387.9" r="1.2" fill="#111"/>
<circle cx="499.4" cy="390.2" r="1.2" fill="#111"/>
<circle cx="502.4" cy="392.5" r="1.2" fill="#111"/>
<circle cx="505.3" cy="394.7" r="1.2" fill="#111"/>
<circle cx="460.6" cy="356.1" r="1.2" fill="#111"/>
<circle cx="463.6" cy="358.4" r="1.2" fill="#111"/>
<circle cx="466.6" cy="360.7" r="1.2" fill="#111"/>
<circle cx="469.6" cy="362.9" r="1.2" fill="#111"/>
<circle cx="472.6" cy="365.2" r="1.2" fill="#111"/>
<circle cx="475.5" cy="367.5" r="1.2" fill="#111"/>
<circle cx="478.5" cy="369.8" r="1.2" fill="#111"/>
<circle cx="481.5" cy="372.1" r="1.2" fill="#111"/>
<circle cx="484.5" cy="374.3" r="1.2" fill="#111"/>
<circle cx="487.5" cy="376.6" r="1.2" fill="#111"/>
<circle cx="490.4" cy="378.9" r="1.2" fill="#111"/>
<circle cx="493.4" cy="381.2" r="1.2" fill="#111"/>
<circle cx="496.4" cy="383.5" r="1.2" fill="#111"/>
<circle cx="499.4" cy="385.7" r="1.2" fill="#111"/>
<circle cx="502.4" cy="388.0" r="1.2" fill="#111"/>
<circle cx="505.3" cy="390.3" r="1.2" fill="#111"/>
<circle cx="463.6" cy="353.9" r="1.2" fill="#111"/>
<circle cx="466.6" cy="356.2" r="1.2" fill="#111"/>
<circle cx="469.6" cy="358.5" r="1.2" fill="#111"/>
<circle cx="472.6" cy="360.8" r="1.2" fill="#111"/>
<circle cx="475.5" cy="363.0" r="1.2" fill="#111"/>
<polyline points="463.5,353.0 475.0,342.0" fill="none" stroke="#2a2a2a" stroke-width="0.7" stroke-linejoin="round" stroke-linecap="round"/>
<polyline points="470.0,369.0 500.0,350.0" fill="none" stroke="#2a2a2a" stroke-width="0.6" stroke-linejoin="round" stroke-linecap="round"/>
<polyline points="463.5,353.0 509.0,396.0" fill="none" stroke="#2a2a2a" stroke-width="0.6" stroke-linejoin="round" stroke-linecap="round"/>
<path d="M466,407 Q466,403 470,401 L476,398 Q480,397 483,399 L501,419 Q503,423 499,426 L490,432 Q486,434 483,431 L465,412 Z" fill="#fff" stroke="#2a2a2a" stroke-width="1.3" stroke-linejoin="round" stroke-linecap="round" />
<circle cx="489.4" cy="428.1" r="1.15" fill="#111"/>
<circle cx="474.5" cy="412.2" r="1.15" fill="#111"/>
<circle cx="477.5" cy="414.5" r="1.15" fill="#111"/>
<circle cx="480.4" cy="416.8" r="1.15" fill="#111"/>
<circle cx="483.4" cy="419.1" r="1.15" fill="#111"/>
<circle cx="486.4" cy="421.4" r="1.15" fill="#111"/>
<circle cx="489.4" cy="423.6" r="1.15" fill="#111"/>
<circle cx="492.4" cy="425.9" r="1.15" fill="#111"/>
<circle cx="471.5" cy="405.5" r="1.15" fill="#111"/>
<circle cx="474.5" cy="407.8" r="1.15" fill="#111"/>
<circle cx="477.5" cy="410.1" r="1.15" fill="#111"/>
<circle cx="480.4" cy="412.3" r="1.15" fill="#111"/>
<circle cx="483.4" cy="414.6" r="1.15" fill="#111"/>
<circle cx="486.4" cy="416.9" r="1.15" fill="#111"/>
<circle cx="489.4" cy="419.2" r="1.15" fill="#111"/>
<circle cx="492.4" cy="421.5" r="1.15" fill="#111"/>
<circle cx="495.3" cy="423.7" r="1.15" fill="#111"/>
<circle cx="474.5" cy="403.3" r="1.15" fill="#111"/>
<circle cx="477.5" cy="405.6" r="1.15" fill="#111"/>
<circle cx="480.4" cy="407.9" r="1.15" fill="#111"/>
<circle cx="483.4" cy="410.2" r="1.15" fill="#111"/>
<circle cx="486.4" cy="412.4" r="1.15" fill="#111"/>
<circle cx="489.4" cy="414.7" r="1.15" fill="#111"/>
<circle cx="492.4" cy="417.0" r="1.15" fill="#111"/>
<circle cx="495.3" cy="419.3" r="1.15" fill="#111"/>
<circle cx="498.3" cy="421.6" r="1.15" fill="#111"/>
<circle cx="477.5" cy="401.2" r="1.15" fill="#111"/>
<circle cx="480.4" cy="403.4" r="1.15" fill="#111"/>
<path d="M468.1,432.1 L473.2,428.6 A5.60,3.36 55.5 0 0 466.8,419.4 L461.7,422.9 Z" fill="#fff" stroke="#2a2a2a" stroke-width="1.0" stroke-linejoin="round" stroke-linecap="round" />
<ellipse cx="464.9" cy="427.5" rx="3.36" ry="5.60" transform="rotate(-34.5 464.9 427.5)" fill="#fff" stroke="#2a2a2a" stroke-width="1.0"/>
<ellipse cx="464.9" cy="427.5" rx="2.35" ry="3.92" transform="rotate(-34.5 464.9 427.5)" fill="#fff" stroke="#2a2a2a" stroke-width="0.9"/>
<ellipse cx="451.3" cy="439.7" rx="9.00" ry="14.00" transform="rotate(-30.0 451.3 439.7)" fill="#fff" stroke="#2a2a2a" stroke-width="0.95"/>
<ellipse cx="448.6" cy="440.4" rx="9.00" ry="14.00" transform="rotate(-30.0 448.6 440.4)" fill="#fff" stroke="#2a2a2a" stroke-width="0.95"/>
<polyline points="437.0,448.6 444.5,444.5" fill="none" stroke="#2a2a2a" stroke-width="0.8" stroke-linejoin="round" stroke-linecap="round"/>
<circle cx="437.0" cy="448.6" r="1.3" fill="#222"/>
<polyline points="426.8,440.4 436.3,432.9" fill="none" stroke="#2a2a2a" stroke-width="0.7" stroke-linejoin="round" stroke-linecap="round" stroke-dasharray="3 1.6"/>
<polyline points="415.9,447.2 422.7,442.5" fill="none" stroke="#2a2a2a" stroke-width="1.3" stroke-linejoin="round" stroke-linecap="round"/>
<circle cx="425.4" cy="440.4" r="1.2" fill="#222"/>
<polyline points="393.5,416.0 423.0,402.0" fill="none" stroke="#2a2a2a" stroke-width="0.7" stroke-linejoin="round" stroke-linecap="round" stroke-dasharray="3 1.6"/>
<path d="M426.6,406.9 L447.1,390.3 A5.30,2.65 51.0 0 0 440.5,382.1 L420.0,398.7 Z" fill="#fff" stroke="#2a2a2a" stroke-width="1.0" stroke-linejoin="round" stroke-linecap="round" />
<ellipse cx="423.3" cy="402.8" rx="2.65" ry="5.30" transform="rotate(-39.0 423.3 402.8)" fill="#fff" stroke="#2a2a2a" stroke-width="1.0"/>
<ellipse cx="423.3" cy="402.8" rx="3.80" ry="6.60" transform="rotate(-35.0 423.3 402.8)" fill="#fff" stroke="#333" stroke-width="1.3"/>
<ellipse cx="423.3" cy="402.8" rx="2.36" ry="4.09" transform="rotate(-35.0 423.3 402.8)" fill="#888" stroke="#333" stroke-width="1.0"/>
<ellipse cx="423.6" cy="402.5" rx="1.14" ry="1.98" transform="rotate(-35.0 423.6 402.5)" fill="#ddd" stroke="#444" stroke-width="0.6"/>
<ellipse cx="407.1" cy="405.8" rx="1.60" ry="2.60" transform="rotate(-35.0 407.1 405.8)" fill="#555" stroke="#2a2a2a" stroke-width="0.95"/>
<circle cx="393.5" cy="416.0" r="1.5" fill="#222"/>
<circle cx="405.4" cy="414.3" r="1.3" fill="#222"/>
<polyline points="640.0,307.0 710.0,262.0" fill="none" stroke="#2a2a2a" stroke-width="0.7" stroke-linejoin="round" stroke-linecap="round" stroke-dasharray="3 1.6"/>
<path d="M651.6,306.2 L656.2,303.2 A5.00,2.75 56.9 0 0 650.8,294.8 L646.2,297.8 Z" fill="#fff" stroke="#2a2a2a" stroke-width="1.0" stroke-linejoin="round" stroke-linecap="round" />
<ellipse cx="648.9" cy="302.0" rx="2.75" ry="5.00" transform="rotate(-33.1 648.9 302.0)" fill="#fff" stroke="#2a2a2a" stroke-width="1.0"/>
<ellipse cx="648.9" cy="302.0" rx="1.65" ry="3.00" transform="rotate(-33.1 648.9 302.0)" fill="#fff" stroke="#2a2a2a" stroke-width="0.9"/>
<ellipse cx="685.4" cy="277.6" rx="3.20" ry="9.50" transform="rotate(-38.0 685.4 277.6)" fill="#fff" stroke="#2a2a2a" stroke-width="0.95"/>
<path d="M670.5,293.5 L686.8,281.3 A4.60,2.30 53.2 0 0 681.2,273.9 L664.9,286.1 Z" fill="#fff" stroke="#2a2a2a" stroke-width="1.0" stroke-linejoin="round" stroke-linecap="round" />
<ellipse cx="667.7" cy="289.8" rx="2.30" ry="4.60" transform="rotate(-36.8 667.7 289.8)" fill="#fff" stroke="#2a2a2a" stroke-width="1.0"/>
<ellipse cx="697.1" cy="265.0" rx="2.00" ry="2.40" transform="rotate(-30.0 697.1 265.0)" fill="#444" stroke="#2a2a2a" stroke-width="0.95"/>
<ellipse cx="699.8" cy="274.3" rx="1.60" ry="2.80" transform="rotate(-35.0 699.8 274.3)" fill="#fff" stroke="#2a2a2a" stroke-width="0.95"/>
<circle cx="708.6" cy="266.5" r="1.8" fill="#222"/>
<polyline points="785.0,391.0 741.8,423.1" fill="none" stroke="#2a2a2a" stroke-width="0.7" stroke-linejoin="round" stroke-linecap="round" stroke-dasharray="3 1.6"/>
<circle cx="778.3" cy="396.5" r="1.7" fill="#222"/>
<path d="M756.5,416.1 L769.8,406.2 A2.40,1.44 53.1 0 0 766.9,402.3 L753.6,412.3 Z" fill="#fff" stroke="#2a2a2a" stroke-width="1.0" stroke-linejoin="round" stroke-linecap="round" />
<ellipse cx="755.1" cy="414.2" rx="1.44" ry="2.40" transform="rotate(-36.9 755.1 414.2)" fill="#fff" stroke="#2a2a2a" stroke-width="1.0"/>
<polygon points="714.1,383.2 723.0,378.3 740.7,396.5 742.9,416.4 741.8,445.2 734.1,451.8 720.8,447.4 709.7,436.3 713.0,431.9 721.9,429.7" fill="#fff" stroke="#2a2a2a" stroke-width="1.0" stroke-linejoin="round"/>
<polyline points="723.0,386.5 728.5,393.2 727.4,399.8" fill="none" stroke="#2a2a2a" stroke-width="0.8" stroke-linejoin="round" stroke-linecap="round"/>
<polyline points="721.9,397.6 727.4,403.1" fill="none" stroke="#2a2a2a" stroke-width="0.7" stroke-linejoin="round" stroke-linecap="round"/>
<polyline points="720.8,413.1 728.5,418.6 732.9,443.0" fill="none" stroke="#2a2a2a" stroke-width="0.8" stroke-linejoin="round" stroke-linecap="round"/>
<polyline points="727.4,434.1 719.7,447.4" fill="none" stroke="#2a2a2a" stroke-width="0.8" stroke-linejoin="round" stroke-linecap="round"/>
<polyline points="709.7,446.3 720.8,439.7" fill="none" stroke="#2a2a2a" stroke-width="0.8" stroke-linejoin="round" stroke-linecap="round"/>
<polygon points="665.4,425.3 677.6,416.4 694.2,414.2 698.6,416.4 705.3,431.9 694.2,439.7" fill="#fff" stroke="#2a2a2a" stroke-width="1.0" stroke-linejoin="round"/>
<polyline points="688.7,420.8 697.5,417.5 704.2,431.5 695.3,437.4 688.7,420.8" fill="none" stroke="#2a2a2a" stroke-width="0.8" stroke-linejoin="round" stroke-linecap="round"/>
<polyline points="677.6,418.6 680.9,426.4 687.6,429.7" fill="none" stroke="#2a2a2a" stroke-width="0.7" stroke-linejoin="round" stroke-linecap="round"/>
<polyline points="270.7,318.0 293.7,335.0" fill="none" stroke="#555" stroke-width="1.0" stroke-linejoin="round" stroke-linecap="round"/>
<polyline points="296.2,295.0 327.0,310.3" fill="none" stroke="#555" stroke-width="1.0" stroke-linejoin="round" stroke-linecap="round"/>
<polyline points="319.3,277.0 342.3,281.3" fill="none" stroke="#555" stroke-width="1.0" stroke-linejoin="round" stroke-linecap="round"/>
<polyline points="337.0,269.3 355.4,286.3" fill="none" stroke="#555" stroke-width="1.0" stroke-linejoin="round" stroke-linecap="round"/>
<polyline points="349.3,256.3 356.8,283.6" fill="none" stroke="#555" stroke-width="1.0" stroke-linejoin="round" stroke-linecap="round"/>
<polyline points="367.7,242.0 369.0,272.7" fill="none" stroke="#555" stroke-width="1.0" stroke-linejoin="round" stroke-linecap="round"/>
<polyline points="388.1,227.7 397.0,263.1" fill="none" stroke="#555" stroke-width="1.0" stroke-linejoin="round" stroke-linecap="round"/>
<polyline points="421.8,168.1 438.0,163.0" fill="none" stroke="#555" stroke-width="1.0" stroke-linejoin="round" stroke-linecap="round"/>
<polyline points="439.7,184.3 447.3,172.4" fill="none" stroke="#555" stroke-width="1.0" stroke-linejoin="round" stroke-linecap="round"/>
<polyline points="467.8,208.2 486.5,192.8" fill="none" stroke="#555" stroke-width="1.0" stroke-linejoin="round" stroke-linecap="round"/>
<polyline points="398.7,144.4 418.4,131.6" fill="none" stroke="#555" stroke-width="1.0" stroke-linejoin="round" stroke-linecap="round"/>
<polyline points="463.5,125.6 470.3,134.1" fill="none" stroke="#555" stroke-width="1.0" stroke-linejoin="round" stroke-linecap="round"/>
<polyline points="475.4,114.5 487.4,123.0" fill="none" stroke="#555" stroke-width="1.0" stroke-linejoin="round" stroke-linecap="round"/>
<polyline points="488.0,236.0 503.0,240.0" fill="none" stroke="#555" stroke-width="1.0" stroke-linejoin="round" stroke-linecap="round"/>
<polyline points="423.0,473.7 438.3,484.0" fill="none" stroke="#555" stroke-width="1.0" stroke-linejoin="round" stroke-linecap="round"/>
<polyline points="393.4,501.3 402.5,508.5" fill="none" stroke="#555" stroke-width="1.0" stroke-linejoin="round" stroke-linecap="round"/>
<polyline points="372.9,517.7 389.3,533.0" fill="none" stroke="#555" stroke-width="1.0" stroke-linejoin="round" stroke-linecap="round"/>
<polyline points="354.5,530.0 376.0,545.2" fill="none" stroke="#555" stroke-width="1.0" stroke-linejoin="round" stroke-linecap="round"/>
<polyline points="391.5,348.6 433.4,345.5" fill="none" stroke="#555" stroke-width="1.0" stroke-linejoin="round" stroke-linecap="round"/>
<polyline points="408.0,380.6 431.0,389.2" fill="none" stroke="#555" stroke-width="1.0" stroke-linejoin="round" stroke-linecap="round"/>
<polyline points="457.4,410.4 460.8,420.7" fill="none" stroke="#555" stroke-width="1.0" stroke-linejoin="round" stroke-linecap="round"/>
<polyline points="442.5,422.7 445.9,427.5" fill="none" stroke="#555" stroke-width="1.0" stroke-linejoin="round" stroke-linecap="round"/>
<polyline points="424.1,435.0 425.4,441.1" fill="none" stroke="#555" stroke-width="1.0" stroke-linejoin="round" stroke-linecap="round"/>
<polyline points="409.1,442.5 415.9,447.2" fill="none" stroke="#555" stroke-width="1.0" stroke-linejoin="round" stroke-linecap="round"/>
<polyline points="660.6,267.4 676.9,275.5" fill="none" stroke="#555" stroke-width="1.0" stroke-linejoin="round" stroke-linecap="round"/>
<polyline points="624.8,286.8 625.8,309.3" fill="none" stroke="#555" stroke-width="1.0" stroke-linejoin="round" stroke-linecap="round"/>
<polyline points="611.5,304.2 623.8,311.3" fill="none" stroke="#555" stroke-width="1.0" stroke-linejoin="round" stroke-linecap="round"/>
<polyline points="591.1,313.4 619.7,315.4" fill="none" stroke="#555" stroke-width="1.0" stroke-linejoin="round" stroke-linecap="round"/>
<polyline points="591.1,313.4 611.5,327.7" fill="none" stroke="#555" stroke-width="1.0" stroke-linejoin="round" stroke-linecap="round"/>
<polyline points="692.0,241.0 697.1,263.2" fill="none" stroke="#555" stroke-width="1.0" stroke-linejoin="round" stroke-linecap="round"/>
<polyline points="766.2,329.6 748.5,329.6" fill="none" stroke="#555" stroke-width="1.0" stroke-linejoin="round" stroke-linecap="round"/>
<polyline points="653.2,454.0 671.0,385.4" fill="none" stroke="#555" stroke-width="1.0" stroke-linejoin="round" stroke-linecap="round"/>
<polyline points="684.2,456.3 686.5,437.4" fill="none" stroke="#555" stroke-width="1.0" stroke-linejoin="round" stroke-linecap="round"/>
<polyline points="719.7,458.5 728.5,433.0" fill="none" stroke="#555" stroke-width="1.0" stroke-linejoin="round" stroke-linecap="round"/>
<polyline points="789.4,407.6 778.3,396.5" fill="none" stroke="#555" stroke-width="1.0" stroke-linejoin="round" stroke-linecap="round"/>
<polyline points="770.6,424.2 762.8,413.0" fill="none" stroke="#555" stroke-width="1.0" stroke-linejoin="round" stroke-linecap="round"/>
<polyline points="599.5,470.4 570.4,429.0" fill="none" stroke="#555" stroke-width="1.0" stroke-linejoin="round" stroke-linecap="round"/>
</g>
<!-- watermark -->
<!-- labels -->
<g class="l">
<text x="347.4" y="530">1</text>
<text x="363.7" y="515.6">2</text>
<text x="384.2" y="499.3">3</text>
<text x="400.2" y="442.5">4</text>
<text x="417.2" y="431.6">5</text>
<text x="433.6" y="420">6</text>
<text x="451.5" y="407">7</text>
<text x="398.6" y="382.3">8</text>
<text x="381.2" y="352.7">9</text>
<text x="256.2" y="315.4">10</text>
<text x="283.5" y="296.6">11</text>
<text x="304.8" y="280.5">12</text>
<text x="323.5" y="266.6">13</text>
<text x="342.5" y="252.2">14</text>
<text x="360.9" y="239.3">15</text>
<text x="382" y="225">16</text>
<text x="476.3" y="238.9">17</text>
<text x="455" y="220">18</text>
<text x="429.4" y="196.2">19</text>
<text x="405.6" y="175.8">20</text>
<text x="384.3" y="154.6">21</text>
<text x="469.5" y="145.2">22</text>
<text x="491" y="132.4">23</text>
<text x="575.8" y="317.4">24</text>
<text x="596.2" y="300">25</text>
<text x="617.7" y="285.8">26</text>
<text x="645.3" y="266.3">27</text>
<text x="683.2" y="238.9">28</text>
<text x="768.4" y="334">29</text>
<text x="789.4" y="419.7">30</text>
<text x="768.4" y="436.3">31</text>
<text x="710.8" y="469.5">32</text>
<text x="676.5" y="467.3">33</text>
<text x="643.3" y="466.2">34</text>
<text x="599.5" y="481.2">35</text>
<text x="407.7" y="471.7">36</text>
</g>
<text id="wm" x="0" y="0" transform="translate(375.5 457) rotate(-45.2)" font-family="Liberation Sans" font-size="53.2" fill="#5b9bd5" fill-opacity="0.72">www.sinoreach.cn</text>
</svg>
</body></html>
